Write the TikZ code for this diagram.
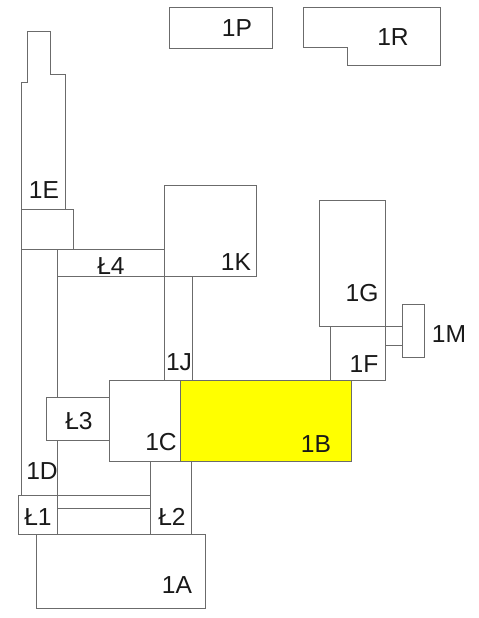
\documentclass[tikz,border=0pt]{standalone}
\usepackage{fontspec}
\setmainfont{Liberation Sans}
\definecolor{room_yellow}{rgb}{1,1,0}
\begin{document}
\begin{tikzpicture}[
  x=0.02cm, y=-0.02cm,
  wall/.style={draw=black!58, line width=0.55pt},
  yellow_room/.style={wall, fill=room_yellow},
  room_label/.style={font=\fontsize{14}{16}\selectfont, text=black!90, inner sep=0pt}
  ]
	\useasboundingbox (0,0) rectangle (478,618);

	\draw[wall] (169.3,7.3) rectangle (272.7,48.3);
	\draw[wall] (303.5,7.3) -- (440.7,7.3) -- (440.7,65) -- (347.5,65) -- (347.5,47.3) -- (303.5,47.3) -- cycle;

	\draw[wall] (21.7,209.3) -- (21.7,82) -- (27.3,82) -- (27.3,31) -- (50.7,31) -- (50.7,74.3) -- (65.7,74.3) -- (65.7,209.3);
	\draw[wall] (21.7,209.3) rectangle (73.3,249.7);
	\draw[wall] (21.7,249.7) -- (21.7,495.7);
	\draw[wall] (57,249.7) -- (57,397.7);
	\draw[wall] (57,440.3) -- (57,495.7);

	\draw[wall] (57,249.7) rectangle (164,276.7);
	\draw[wall] (164,185.3) rectangle (256.7,276.7);
	\draw[wall] (164,276.7) -- (164,380.3);
	\draw[wall] (192.3,276.7) -- (192.3,380.3);

	\draw[wall] (319.3,200) rectangle (385.7,326);
	\draw[wall] (330,326) rectangle (385.7,380.3);
	\draw[wall] (402.3,304) rectangle (424.3,357.7);
	\draw[wall] (385.7,326) -- (402.3,326);
	\draw[wall] (385.7,345) -- (402.3,345);

	\draw[wall] (46.3,397.7) rectangle (109.5,440.3);
	\draw[wall] (109.5,380.3) rectangle (180.5,461.3);
	\draw[yellow_room] (180.5,380.3) rectangle (351.7,461.3);

	\draw[wall] (150,461.3) -- (150,534.3);
	\draw[wall] (191,461.3) -- (191,534.3);
	\draw[wall] (18.5,495.7) rectangle (57,534.3);
	\draw[wall] (57,495.7) -- (150,495.7);
	\draw[wall] (57,508.3) -- (150,508.3);
	\draw[wall] (36,534.3) rectangle (205.7,608.3);

	\node[room_label] (1P) at (237,28.5) {1P};
	\node[room_label] (1R) at (393,37) {1R};
	\node[room_label] (1E) at (44,190) {1E};
	\node[room_label] (L4) at (111,266) {Ł4};
	\node[room_label] (1K) at (236,262) {1K};
	\node[room_label] (1G) at (362,293) {1G};
	\node[room_label] (1F) at (364,364) {1F};
	\node[room_label] (1M) at (449,334) {1M};
	\node[room_label] (1J) at (179,362) {1J};
	\node[room_label] (L3) at (79,421) {Ł3};
	\node[room_label] (1C) at (161,442) {1C};
	\node[room_label] (1B) at (316,444) {1B};
	\node[room_label] (1D) at (42,471) {1D};
	\node[room_label] (L1) at (38,517) {Ł1};
	\node[room_label] (L2) at (172,517) {Ł2};
	\node[room_label] (1A) at (177,585) {1A};
\end{tikzpicture}
\end{document}
